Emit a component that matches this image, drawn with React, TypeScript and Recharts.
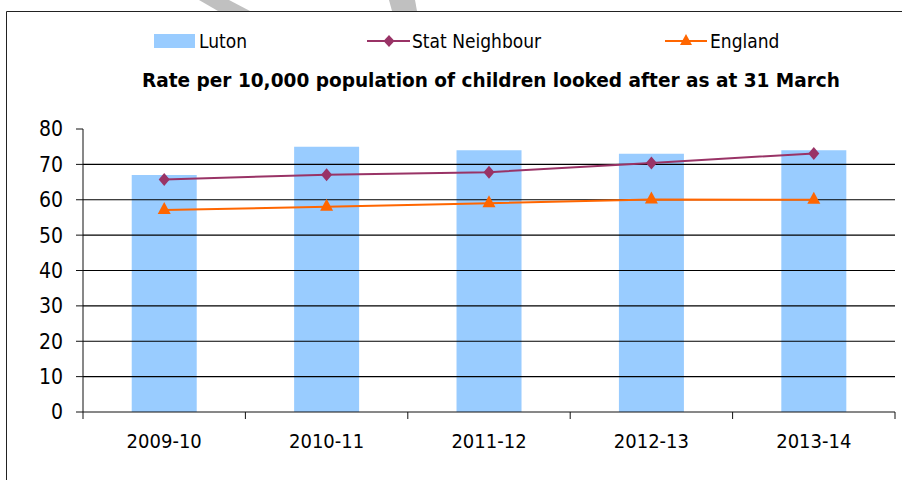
import { Bar, ComposedChart, Line, ReferenceLine, XAxis, YAxis } from 'recharts';

const years = ['2009-10', '2010-11', '2011-12', '2012-13', '2013-14'];
const luton = [67, 75, 74, 73, 74];
const statNeighbour = [65.7, 67.1, 67.8, 70.4, 73.1];
const england = [57.1, 58, 59, 60.1, 60];
const yTicks = [0, 10, 20, 30, 40, 50, 60, 70, 80];
const gridValues = [10, 20, 30, 40, 50, 60, 70];

const data = years.map((year, i) => ({
  year,
  luton: luton[i],
  statNeighbour: statNeighbour[i],
  england: england[i],
}));

const FONT = "'DejaVu Sans Condensed', 'DejaVu Sans', sans-serif";
const textStyle = { fontFamily: FONT, fontStretch: 'condensed' as const };

function Diamond(props: any) {
  const { cx, cy } = props;
  if (cx == null || cy == null) return null;
  return <polygon points={`${cx},${cy - 6.5} ${cx + 5.5},${cy} ${cx},${cy + 6.5} ${cx - 5.5},${cy}`} fill="#993366" />;
}

function Triangle(props: any) {
  const { cx, cy } = props;
  if (cx == null || cy == null) return null;
  return <polygon points={`${cx},${cy - 8} ${cx + 6.5},${cy + 4} ${cx - 6.5},${cy + 4}`} fill="#FF6600" />;
}

// category labels plus tick marks on the band edges (Excel style)
function YearTick(props: any) {
  const { x, y, payload, index } = props;
  const half = payload?.offset ?? 81;
  const axisY = y - 22;
  return (
    <g>
      <line x1={x - half} y1={axisY} x2={x - half} y2={axisY + 7} stroke="#111" />
      {index === years.length - 1 && <line x1={x + half} y1={axisY} x2={x + half} y2={axisY + 7} stroke="#111" />}
      <text x={x} y={y} dy={14} textAnchor="middle" fontSize={20} fill="#000" style={textStyle}>
        {payload.value}
      </text>
    </g>
  );
}

export default function App() {
  return (
    <div style={{ position: 'absolute', left: 0, top: 0, width: 902, height: 480, overflow: 'hidden', background: '#fff' }}>
      <ComposedChart width={902} height={480} data={data} margin={{ top: 129, right: 7, bottom: 28, left: 23 }} barCategoryGap="30%">
        {gridValues.map((v) => (
          <ReferenceLine key={v} y={v} stroke="#000" strokeWidth={1.2} />
        ))}
        <XAxis
          dataKey="year"
          height={40}
          tickLine={false}
          tickSize={0}
          tickMargin={22}
          axisLine={{ stroke: '#111' }}
          tick={<YearTick />}
          interval={0}
        />
        <YAxis
          width={60}
          domain={[0, 80]}
          ticks={yTicks}
          interval={0}
          tickSize={7}
          tickMargin={13}
          axisLine={{ stroke: '#111' }}
          tickLine={{ stroke: '#111' }}
          tick={{ fontSize: 21, fill: '#000', fontFamily: FONT, style: { fontStretch: 'condensed' } }}
        />
        <Bar dataKey="luton" fill="#99CCFF" isAnimationActive={false} />
        <Line dataKey="statNeighbour" stroke="#993366" strokeWidth={2} dot={<Diamond />} activeDot={false} isAnimationActive={false} />
        <Line dataKey="england" stroke="#FF6600" strokeWidth={2} dot={<Triangle />} activeDot={false} isAnimationActive={false} />
      </ComposedChart>
      <svg width={902} height={480} style={{ position: 'absolute', left: 0, top: 0, pointerEvents: 'none' }}>
        <polygon points="199,0 229,0 250,11 218,11" fill="#c0c0c0" />
        <polygon points="389,0 415,0 417,11 392,11" fill="#c0c0c0" />
        <line x1={6.5} y1={11.5} x2={902} y2={11.5} stroke="#222" />
        <line x1={6.5} y1={11.5} x2={6.5} y2={480} stroke="#222" />

        <rect x={154} y={34} width={41} height={14} fill="#99CCFF" />
        <text x={199} y={48} fontSize={19} fill="#000" style={textStyle}>Luton</text>

        <line x1={367} y1={41} x2={410} y2={41} stroke="#993366" strokeWidth={2} />
        <polygon points="389,35 394.5,41 389,47 383.5,41" fill="#993366" />
        <text x={412} y={48} fontSize={19} fill="#000" style={textStyle}>Stat Neighbour</text>

        <line x1={665} y1={41} x2={707} y2={41} stroke="#FF6600" strokeWidth={2} />
        <polygon points="686,34 692,45 680,45" fill="#FF6600" />
        <text x={710} y={48} fontSize={19} fill="#000" style={textStyle}>England</text>

        <text
          x={142}
          y={87}
          fontSize={20}
          fontWeight="bold"
          fill="#000"
          textLength={698}
          lengthAdjust="spacingAndGlyphs"
          style={textStyle}
        >
          Rate per 10,000 population of children looked after as at 31 March
        </text>
      </svg>
    </div>
  );
}
